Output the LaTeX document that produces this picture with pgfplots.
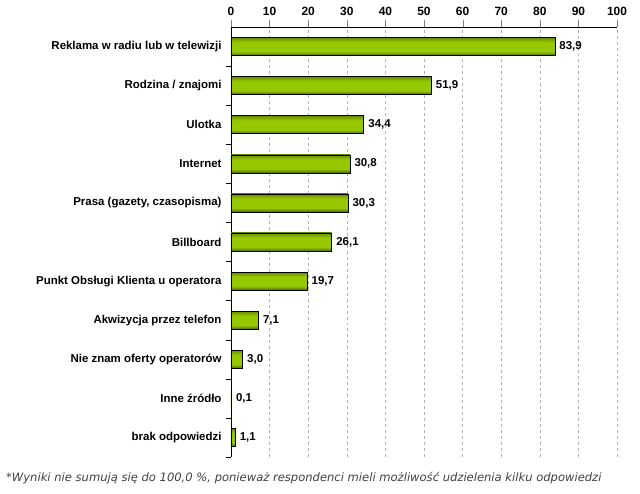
\documentclass[border=0pt]{standalone}
\usepackage{pgfplots}
\pgfplotsset{compat=1.18}
\usepackage{fontspec}
\setmainfont{Liberation Sans}
\newfontfamily\notefont{DejaVu Sans}
\definecolor{bartop}{RGB}{105,140,0}
\definecolor{barmid}{RGB}{150,200,0}
\definecolor{barbot}{RGB}{80,105,0}
\pgfdeclareverticalshading{barshade}{100bp}{color(0bp)=(barbot); color(25bp)=(barbot); color(36bp)=(barmid); color(62bp)=(barmid); color(75bp)=(bartop); color(100bp)=(bartop)}
\begin{document}
\begin{tikzpicture}
\useasboundingbox (-231bp,-37bp) rectangle (409bp,457bp);
\begin{axis}[
  at={(0,0)}, anchor=south west,
  scale only axis, width=386bp, height=430bp,
  xbar, bar width=18bp, bar shift=0pt,
  xmin=0, xmax=100, ymin=-0.5, ymax=10.5,
  axis x line*=top, axis y line*=left,
  xtick={0,10,...,100},
  /pgf/number format/assume math mode=true,
  x tick label style={font=\fontsize{12}{14}\selectfont\bfseries, yshift=1bp},
  xtick align=center,
  xtick pos=upper,
  major tick length=7bp,
  xticklabel pos=upper,
  ytick={0,...,10},
  yticklabels={brak odpowiedzi, Inne źródło, Nie znam oferty operatorów, Akwizycja przez telefon, Punkt Obsługi Klienta u operatora, Billboard, {Prasa (gazety, czasopisma)}, Internet, Ulotka, Rodzina / znajomi, Reklama w radiu lub w telewizji},
  y tick label style={font=\fontsize{11.5}{13}\selectfont\bfseries, xshift=1bp},
  ytick style={draw=none},
  minor ytick={-0.5,0.5,...,9.5},
  minor y tick style={draw=black, thin},
  minor tick length=5bp,
  ytick pos=left, tick align=outside,
  xmajorgrids, grid style={gray!60, dashed},
  axis line style={black, thin},
  nodes near coords={\pgfmathprintnumber[fixed,fixed zerofill,precision=1,use comma,assume math mode=true]{\pgfplotspointmeta}},
  nodes near coords style={font=\fontsize{11.5}{13}\selectfont\bfseries, anchor=west, xshift=1bp},
  mybar/.style={draw=black, semithick, shade, shading=barshade},
]
\addplot[mybar] coordinates {(83.9,10)};
\addplot[mybar] coordinates {(51.9,9)};
\addplot[mybar] coordinates {(34.4,8)};
\addplot[mybar] coordinates {(30.8,7)};
\addplot[mybar] coordinates {(30.3,6)};
\addplot[mybar] coordinates {(26.1,5)};
\addplot[mybar] coordinates {(19.7,4)};
\addplot[mybar] coordinates {(7.1,3)};
\addplot[mybar] coordinates {(3.0,2)};
\addplot[mybar] coordinates {(0.1,1)};
\addplot[mybar] coordinates {(1.1,0)};
\end{axis}
\node[anchor=west, font=\notefont\itshape\fontsize{11.6}{13}\selectfont, text=black!75, inner sep=0pt] at (-225bp,-21bp) {*Wyniki nie sumują się do 100,0 \%, ponieważ respondenci mieli możliwość udzielenia kilku odpowiedzi};
\end{tikzpicture}
\end{document}
